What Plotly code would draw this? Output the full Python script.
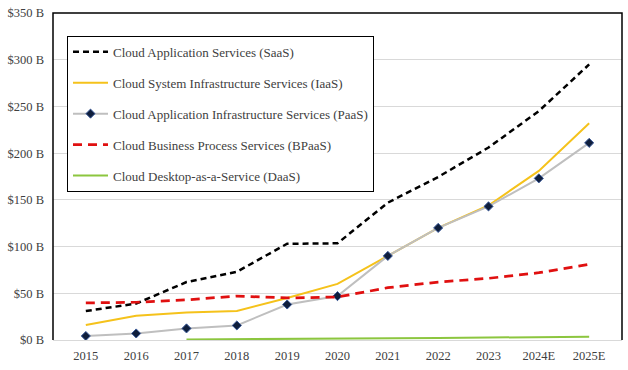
import plotly.graph_objects as go

years = ["2015", "2016", "2017", "2018", "2019", "2020", "2021", "2022", "2023", "2024E", "2025E"]
saas = [31, 39, 62, 73, 103, 103.5, 147, 174.5, 206, 245, 295]
iaas = [16, 26, 29.5, 31, 45, 60, 90, 120, 144, 181, 232]
paas = [4.3, 7, 12.4, 15.6, 38, 47, 90, 120, 143, 173, 211]
bpaas = [39.7, 40.4, 43, 47, 45, 46, 56, 62, 66, 72, 81]
daas = [None, None, 0.5, 0.7, 1.0, 1.3, 1.8, 2.2, 2.6, 3.2, 3.6]

names = [
    "Cloud Application Services (SaaS)",
    "Cloud System Infrastructure Services (IaaS)",
    "Cloud Application Infrastructure Services (PaaS)",
    "Cloud Business Process Services (BPaaS)",
    "Cloud Desktop-as-a-Service (DaaS)",
]

font = "Liberation Serif"
fig = go.Figure()
fig.add_trace(go.Scatter(x=years, y=saas, name=names[0], mode="lines", legendgroup="a",
                         line=dict(color="black", width=2.5, dash="6px,4px")))
fig.add_trace(go.Scatter(x=years, y=iaas, name=names[1], mode="lines", legendgroup="b",
                         line=dict(color="#F5C21B", width=2)))
fig.add_trace(go.Scatter(x=years, y=paas, name=names[2], mode="lines+markers", legendgroup="c",
                         line=dict(color="#BFBFBF", width=2),
                         marker=dict(symbol="diamond", size=7, color="#0F1E3C",
                                     line=dict(color="#3A5A9A", width=1))))
fig.add_trace(go.Scatter(x=years, y=bpaas, name=names[3], mode="lines", legendgroup="d",
                         line=dict(color="#E01010", width=2.75, dash="9px,6px")))
fig.add_trace(go.Scatter(x=years, y=daas, name=names[4], mode="lines", legendgroup="e",
                         line=dict(color="#8CC63F", width=2)))

fig.update_layout(
    width=628, height=370,
    margin=dict(l=53, r=6, t=11, b=30),
    paper_bgcolor="white", plot_bgcolor="white",
    font=dict(family=font, size=12, color="#404040"),
    showlegend=True,
    legend=dict(x=0.0246, y=0.93, xanchor="left", yanchor="top",
                bgcolor="white", bordercolor="black", borderwidth=1,
                font=dict(family=font, size=13, color="#404040"),
                tracegroupgap=11, itemwidth=35,
                entrywidth=268, entrywidthmode="pixels"),
    xaxis=dict(type="category", showgrid=False, showline=True, linecolor="#D9D9D9",
               linewidth=1, ticks="", tickfont=dict(size=12.5), ticklabelstandoff=4),
    yaxis=dict(range=[0, 350], dtick=50, tickprefix="$", ticksuffix=" B",
               showgrid=True, gridcolor="#D9D9D9", gridwidth=1, zeroline=False,
               showline=False, ticklabelstandoff=8, tickfont=dict(size=12.5)),
    shapes=[dict(type="path", xref="paper", yref="paper",
                 path="M 0,0 L 0,1 L 1,1 L 1,0",
                 line=dict(color="black", width=1.5))],
)

fig.write_html("out.html", config={"displayModeBar": False},
               post_script="document.body.style.margin='0';")
